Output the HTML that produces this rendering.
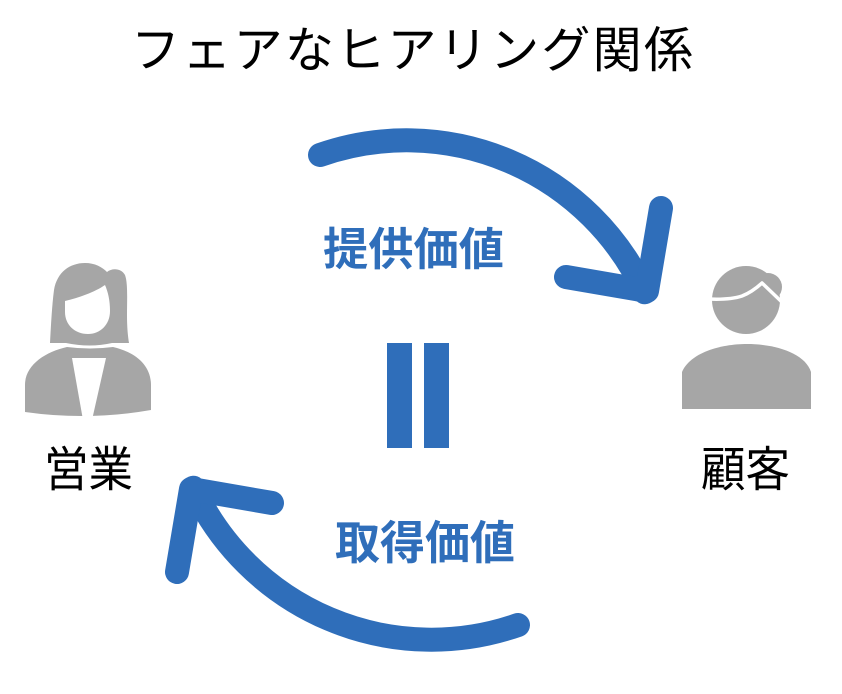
<!DOCTYPE html>
<html>
<head>
<meta charset="utf-8">
<style>
  html, body { margin:0; padding:0; background:#ffffff; }
  body { width:842px; height:694px; overflow:hidden; }
  svg { display:block; }
  .t { font-family: "Liberation Sans", "Noto Sans CJK JP", sans-serif; }
</style>
</head>
<body>
<svg width="842" height="694" viewBox="0 0 842 694" xmlns="http://www.w3.org/2000/svg">
  <rect x="0" y="0" width="842" height="694" fill="#ffffff"/>

  <!-- Title -->
  <text class="t" x="131" y="67" font-size="49" fill="#000000" textLength="562" lengthAdjust="spacing">フェアなヒアリング関係</text>

  <!-- Top arrow -->
  <g fill="none" stroke="#2F6EBA" stroke-width="24" stroke-linecap="round" stroke-linejoin="round">
    <path d="M320 155 A262.5 262.5 0 0 1 644.7 292.3"/>
    <path d="M661 208 L647 291 L566 277"/>
  </g>

  <!-- Bottom arrow (rotated copy) -->
  <g fill="none" stroke="#2F6EBA" stroke-width="24" stroke-linecap="round" stroke-linejoin="round" transform="rotate(180 419 390)">
    <path d="M320 155 A262.5 262.5 0 0 1 644.7 292.3"/>
    <path d="M661 208 L647 291 L566 277"/>
  </g>

  <!-- Labels -->
  <text class="t" x="323" y="265" font-size="45" font-weight="bold" fill="#2F6EBA" textLength="181" lengthAdjust="spacingAndGlyphs">提供価値</text>
  <text class="t" x="335" y="559" font-size="46" font-weight="bold" fill="#2F6EBA" textLength="180" lengthAdjust="spacingAndGlyphs">取得価値</text>

  <!-- Equals sign -->
  <rect x="387" y="343" width="25" height="105" fill="#2F6EBA"/>
  <rect x="424" y="343" width="25" height="105" fill="#2F6EBA"/>

  <!-- Female icon (営業) -->
  <g fill="#A6A6A6">
    <path d="M50 343 C51 325 52 305 54 290 C57 272 70 263 85 263 C95 263 102 267 107 272 C112 268 121 268 125 275 C128 283 127 300 127 315 C127 328 128 337 129 343 L112 343 Q90 348 66 343 Z"/>
    <path d="M25 412 L25 385 C25 365 45 352 67 347 Q90 350 113 347 C135 352 151 365 151 385 L151 410 Q88 421 25 412 Z"/>
  </g>
  <path d="M65 301 C78 298 95 292 105 285 C108 292 110 300 110 311 C110 325 100 334 88 334 C75 334 65 325 65 312 Z" fill="#ffffff"/>
  <polygon points="72,358 106,358 92,420 83,420" fill="#ffffff"/>

  <!-- Male icon (顧客) -->
  <g fill="#A6A6A6">
    <circle cx="746" cy="300" r="34"/>
    <circle cx="768" cy="287" r="14"/>
    <path d="M682 409 L682 372 C690 353 720 344 747 344 C775 344 805 353 811 372 L811 409 Z"/>
  </g>
  <path d="M708 299 Q730 300 742 296 Q752 292 762 283 L785 305" fill="none" stroke="#ffffff" stroke-width="3.5" stroke-linejoin="round"/>

  <!-- Person labels -->
  <text class="t" x="44" y="486" font-size="48" fill="#000000" textLength="89" lengthAdjust="spacingAndGlyphs">営業</text>
  <text class="t" x="701" y="486" font-size="48" fill="#000000" textLength="89" lengthAdjust="spacingAndGlyphs">顧客</text>
</svg>
</body>
</html>
